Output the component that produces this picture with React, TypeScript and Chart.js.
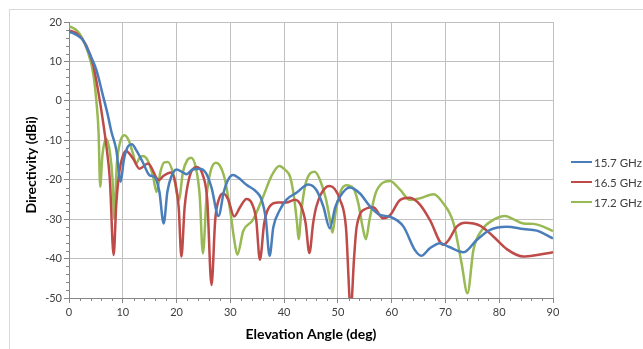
import React, { useEffect, useRef } from "react";
import { Chart, registerables } from "chart.js";

Chart.register(...registerables);

const seriesNames = ["15.7 GHz", "16.5 GHz", "17.2 GHz"];
const seriesColors = ["#4A7EBB", "#BE4B48", "#98B954"];

const xTicks = [0, 10, 20, 30, 40, 50, 60, 70, 80, 90];
const yTicks = [-50, -40, -30, -20, -10, 0, 10, 20];
const xTitle = "Elevation Angle (deg)";
const yTitle = "Directivity (dBi)";

// [elevation angle (deg), directivity (dBi)]
const ghz157: [number, number][] = [
  [0, 17.5], [1.3, 16.8], [2.6, 15.4], [3.8, 12], [5.1, 7.8], [6.3, 1.4], [7.2, -3.5], [7.9, -7.9],
  [8.8, -12.5], [9.6, -20.5], [10.2, -15], [11, -11.5], [11.7, -11], [12.5, -12.5], [13.7, -15.5],
  [15, -18.9], [15.9, -19.3], [16.8, -23], [17.6, -31.1], [18.3, -23], [19, -19.3], [20, -17.4],
  [21, -18], [21.8, -18.6], [23, -17.4], [24.3, -17.2], [25.5, -18.4], [26.5, -22], [27.8, -29.2],
  [28.8, -23], [29.6, -20], [30.5, -18.8], [31.5, -19.5], [33, -21.3], [34.8, -23], [35.8, -25],
  [36.6, -30], [37.3, -39.3], [38, -32], [39.2, -27.7], [40.4, -25.1], [42.3, -23.3], [44.5, -21.2],
  [46, -22.6], [47.3, -26.8], [48.5, -32.3], [49.5, -27], [50.4, -24.3], [52.2, -22], [54.1, -23.5],
  [56, -26.8], [57.8, -28.9], [59.7, -29.4], [62.2, -31.9], [64.3, -37.8], [65.5, -39.3], [67.1, -37.4],
  [69, -36.1], [70.6, -37], [73.4, -38.4], [75.8, -35.3], [78.3, -32.7], [81.4, -31.9], [84.5, -32.5],
  [87, -32.9], [90, -34.9],
];

const ghz165: [number, number][] = [
  [0, 17.9], [1.5, 17], [3.2, 14.1], [4.5, 9.1], [5.5, 1.9], [6.3, -5], [7, -12], [7.6, -20],
  [8.3, -39.1], [8.8, -26], [9.4, -17.6], [10, -14], [10.6, -12.7], [11.9, -14.6], [13.1, -17.2],
  [14.7, -15.9], [16.7, -20.1], [17.6, -19], [19, -18.2], [19.8, -21], [20.4, -27], [20.9, -39.5],
  [21.5, -27], [22.4, -19.3], [23.7, -16.8], [24.9, -18.9], [25.7, -25], [26.5, -46.7], [27.2, -30],
  [28, -24.5], [28.7, -23.5], [29.6, -25], [30.7, -29.3], [31.8, -27], [33, -24.9], [34, -26],
  [34.8, -30], [35.5, -40.3], [36.3, -31], [37.3, -26.8], [38.9, -25.8], [40.4, -25.8], [42, -25.1],
  [43.2, -26.8], [44, -31], [44.7, -38.6], [45.4, -31], [46, -26.8], [47.9, -21.8], [48.5, -21.6],
  [50.4, -25.1], [51.5, -32], [52.4, -53], [53, -40], [53.5, -31.9], [55.3, -27.3], [56.6, -27],
  [58.4, -29.8], [59.7, -29], [61.6, -25.1], [63.4, -24.6], [65.3, -26.4], [67.1, -30.2], [69.6, -36.5],
  [70.6, -35.3], [72.1, -31.9], [73.7, -30.9], [76.5, -31.7], [78.9, -34.4], [81.4, -37.6],
  [84.5, -39.5], [87, -39.1], [90, -38.4],
];

const ghz172: [number, number][] = [
  [0, 18.9], [1, 18.3], [2, 17], [3.5, 12.4], [4.5, 7], [5.1, -0.2], [5.5, -8], [5.8, -21.8],
  [6.2, -14], [6.9, -9.6], [7.6, -13], [8.1, -20], [8.4, -29.8], [8.9, -16], [9.5, -10.5], [10.3, -8.7],
  [11.1, -10], [11.9, -13.4], [12.5, -15.9], [13.1, -14.5], [13.7, -14], [14.6, -15], [15.6, -19],
  [16.3, -23.1], [17, -18], [17.7, -15.6], [18.4, -15.5], [19.5, -19], [20.4, -25.2], [21.2, -18],
  [22, -15], [22.7, -14.4], [23.6, -17], [24.3, -24], [24.9, -38.7], [25.6, -24], [26.3, -18],
  [27.3, -15.7], [28, -16.3], [29, -20], [30, -28], [30.7, -35], [31.3, -39], [32.4, -33],
  [34.2, -30.2], [36.1, -24.3], [37.6, -19.2], [39.1, -16.5], [40.2, -17.5], [41.1, -19.2],
  [41.8, -24], [42.4, -31], [42.7, -35.1], [43.2, -28], [44, -21], [45.7, -18], [46.8, -20.5],
  [47.8, -25], [48.5, -30], [49, -33.4], [49.6, -28], [50.5, -23], [51.6, -21.4], [52.9, -22.2],
  [53.8, -26], [54.6, -32], [55.2, -35.1], [55.9, -30], [57, -23.5], [58.3, -20.8], [59.7, -20.3],
  [61.6, -22.6], [63.4, -25.1], [65.3, -24.7], [67.8, -23.7], [69.6, -26], [71.5, -31], [73, -41.2],
  [74.1, -48.8], [75.2, -37.8], [76.8, -32.7], [78.9, -30.2], [81.1, -29.2], [82.6, -30],
  [84.5, -31.1], [86.4, -31.2], [90, -33],
];

const seriesData = [ghz157, ghz165, ghz172];

const FONT = "Lato, 'Open Sans', sans-serif";
const TEXT = "#404040";
const AXIS = "#868686";
const GRID = "#C0C0C0";

const extras = {
  id: "extras",
  afterDraw(chart: any) {
    const { ctx, chartArea, scales } = chart;
    const xs = scales.x;
    const ys = scales.y;
    ctx.save();
    ctx.strokeStyle = AXIS;
    ctx.lineWidth = 1;
    ctx.beginPath();
    for (let v = 0; v <= 90; v += 2) {
      if (v % 10 === 0) continue;
      const px = Math.round(xs.getPixelForValue(v)) + 0.5;
      ctx.moveTo(px, chartArea.bottom);
      ctx.lineTo(px, chartArea.bottom + 3);
    }
    for (let v = -50; v <= 20; v += 2) {
      if (v % 10 === 0) continue;
      const py = Math.round(ys.getPixelForValue(v)) + 0.5;
      ctx.moveTo(chartArea.left - 3, py);
      ctx.lineTo(chartArea.left, py);
    }
    ctx.stroke();

    ctx.fillStyle = "#000";
    ctx.font = `bold 14px ${FONT}`;
    ctx.textAlign = "center";
    ctx.textBaseline = "middle";
    ctx.fillText(xTitle, (chartArea.left + chartArea.right) / 2, chartArea.bottom + 36);
    ctx.translate(31, (chartArea.top + chartArea.bottom) / 2 + 5);
    ctx.rotate(-Math.PI / 2);
    ctx.fillText(yTitle, 0, 0);
    ctx.restore();
  },
};

export default function App() {
  const ref = useRef<HTMLCanvasElement | null>(null);

  useEffect(() => {
    if (!ref.current) return;
    const chart = new Chart(ref.current, {
      type: "line",
      data: {
        datasets: seriesData.map((s, i) => ({
          label: seriesNames[i],
          data: s.map(([x, y]) => ({ x, y })),
          borderColor: seriesColors[i],
          backgroundColor: seriesColors[i],
          borderWidth: 2.5,
          pointRadius: 0,
          cubicInterpolationMode: "monotone" as const,
          fill: false,
        })),
      },
      options: {
        animation: false,
        responsive: false,
        devicePixelRatio: 1,
        layout: { padding: { left: 0, right: 90, top: 22, bottom: 0 } },
        plugins: { legend: { display: false }, tooltip: { enabled: false } },
        scales: {
          x: {
            type: "linear",
            min: 0,
            max: 90,
            afterBuildTicks: (s: any) => {
              s.ticks = xTicks.map((v) => ({ value: v }));
            },
            afterFit: (s: any) => {
              s.height = 51;
            },
            ticks: { color: TEXT, font: { family: FONT, size: 11 }, padding: 3, maxRotation: 0 },
            grid: { color: GRID, tickColor: AXIS, tickLength: 5, lineWidth: 1 },
            border: { color: AXIS, width: 1 },
          },
          y: {
            type: "linear",
            min: -50,
            max: 20,
            afterBuildTicks: (s: any) => {
              s.ticks = yTicks.map((v) => ({ value: v }));
            },
            afterFit: (s: any) => {
              s.width = 69;
            },
            ticks: { color: TEXT, font: { family: FONT, size: 11 }, padding: 2 },
            grid: { color: GRID, tickColor: AXIS, tickLength: 5, lineWidth: 1 },
            border: { color: AXIS, width: 1 },
          },
        },
      },
      plugins: [extras],
    });
    return () => chart.destroy();
  }, []);

  return (
    <div
      style={{
        position: "fixed",
        left: 0,
        top: 0,
        width: 643,
        height: 349,
        background: "#fff",
        overflow: "hidden",
      }}
    >
      <div
        style={{
          position: "absolute",
          left: 9,
          top: 9,
          width: 700,
          height: 400,
          borderLeft: "1px solid #D9D9D9",
          borderTop: "1px solid #D9D9D9",
        }}
      />
      <canvas ref={ref} width={643} height={349} style={{ position: "absolute", left: 0, top: 0 }} />
      {seriesNames.map((name, i) => (
        <div
          key={name}
          style={{
            position: "absolute",
            left: 571,
            top: 154 + i * 20,
            height: 16,
            display: "flex",
            alignItems: "center",
            fontFamily: FONT,
            fontSize: 11.5,
            color: TEXT,
            whiteSpace: "nowrap",
          }}
        >
          <span
            style={{
              display: "inline-block",
              width: 21,
              height: 2.5,
              background: seriesColors[i],
              marginRight: 2,
            }}
          />
          {name}
        </div>
      ))}
    </div>
  );
}
